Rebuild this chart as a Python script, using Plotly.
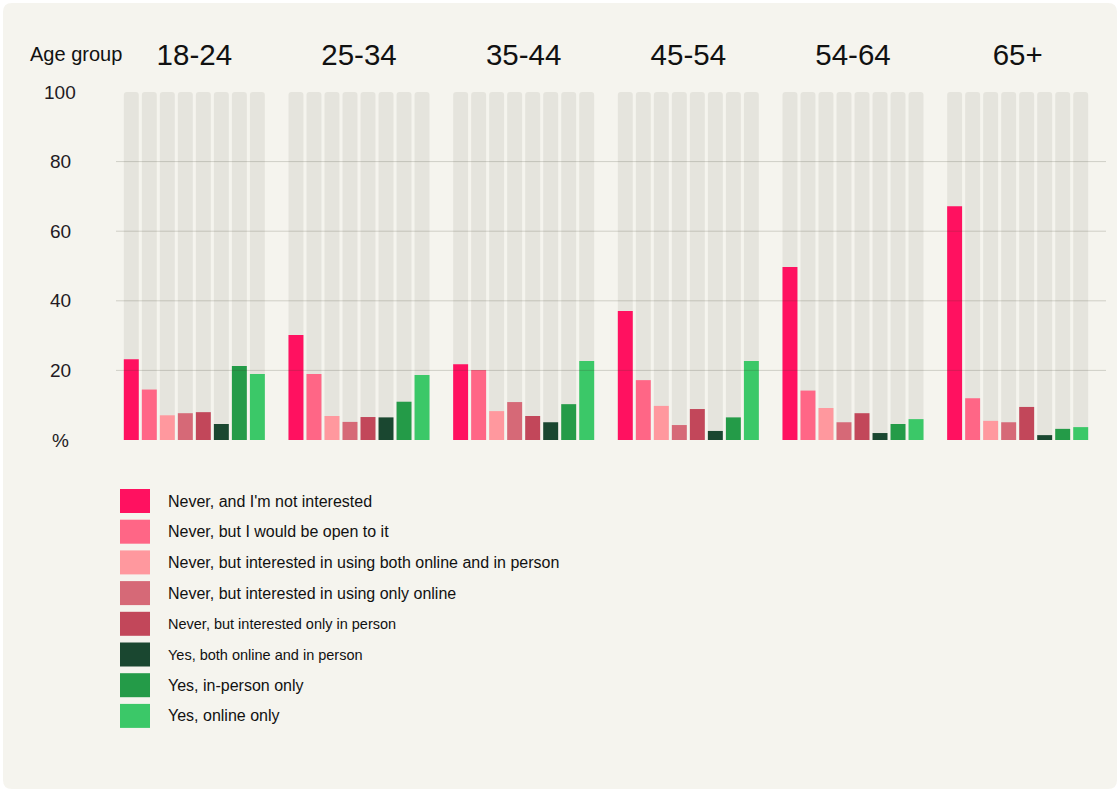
import plotly.graph_objects as go

age_groups = ["18-24", "25-34", "35-44", "45-54", "54-64", "65+"]

answers = [
    "Never, and I'm not interested",
    "Never, but I would be open to it",
    "Never, but interested in using both online and in person",
    "Never, but interested in using only online",
    "Never, but interested only in person",
    "Yes, both online and in person",
    "Yes, in-person only",
    "Yes, online only",
]

# share of respondents (%) per answer, one value per age group
never_not_interested = [23.2, 30.2, 21.8, 37.1, 49.7, 67.2]
never_open = [14.5, 19.0, 20.1, 17.2, 14.2, 12.0]
never_both = [7.1, 6.9, 8.3, 9.8, 9.2, 5.5]
never_online = [7.7, 5.2, 10.9, 4.3, 5.1, 5.1]
never_in_person = [8.0, 6.6, 6.9, 8.9, 7.7, 9.5]
yes_both = [4.6, 6.5, 5.1, 2.6, 2.0, 1.4]
yes_in_person = [21.3, 11.0, 10.3, 6.5, 4.6, 3.2]
yes_online = [19.0, 18.7, 22.7, 22.7, 6.0, 3.7]

series = [never_not_interested, never_open, never_both, never_online,
          never_in_person, yes_both, yes_in_person, yes_online]

full_scale = [100] * len(age_groups)

tick_values = [0, 20, 40, 60, 80, 100]
tick_text = ["%", "20", "40", "60", "80", "100"]
grid_values = [20, 40, 60, 80]

colors = ["#ff1160", "#ff6686", "#ff989e", "#d66977", "#c2475a",
          "#1a4730", "#249b48", "#3bc868"]
legend_sizes = [16, 16, 16, 16, 14.5, 14.5, 16, 16]

card = "#f5f4ee"
track = "#e5e4dd"
ink = "#231a23"

# page geometry (pixels) so annotations/shapes can be placed in paper units
W, H = 1120, 800
L, R, T, B = 112, 20, 92, 360
pw, ph = W - L - R, H - T - B


def px(x):
    return (x - L) / pw


def py(y):
    return (T + ph - y) / ph


def rounded_rect(x0, y0, x1, y1, r):
    return (f"M {px(x0 + r)},{py(y0)} L {px(x1 - r)},{py(y0)} "
            f"Q {px(x1)},{py(y0)} {px(x1)},{py(y0 + r)} "
            f"L {px(x1)},{py(y1 - r)} Q {px(x1)},{py(y1)} {px(x1 - r)},{py(y1)} "
            f"L {px(x0 + r)},{py(y1)} Q {px(x0)},{py(y1)} {px(x0)},{py(y1 - r)} "
            f"L {px(x0)},{py(y0 + r)} Q {px(x0)},{py(y0)} {px(x0 + r)},{py(y0)} Z")


fig = go.Figure()

# grey tracks behind each bar
for i in range(len(answers)):
    fig.add_trace(go.Bar(x=age_groups, y=full_scale, offsetgroup=str(i),
                         marker=dict(color=track, line=dict(width=0)),
                         hoverinfo="skip", showlegend=False))

for i, (name, vals) in enumerate(zip(answers, series)):
    fig.add_trace(go.Bar(x=age_groups, y=vals, name=name, offsetgroup=str(i),
                         marker=dict(color=colors[i], line=dict(width=0)),
                         showlegend=False))

shapes = [dict(type="path", xref="paper", yref="paper", layer="below",
               path=rounded_rect(3, 3, 1117, 789, 9),
               fillcolor=card, line=dict(width=0))]

for g in grid_values:
    shapes.append(dict(type="line", xref="paper", yref="y", layer="above",
                       x0=px(116), x1=px(1106), y0=g, y1=g,
                       line=dict(color="rgba(60,60,40,0.2)", width=1)))

annotations = [dict(text="Age group", xref="paper", yref="paper",
                    x=px(28), y=py(54), xanchor="left", yanchor="middle",
                    showarrow=False, font=dict(size=20, color="#111"))]

for v, t in zip(tick_values, tick_text):
    annotations.append(dict(text=t, xref="paper", yref="y", x=px(60), y=v,
                            xanchor="center", yanchor="middle", showarrow=False,
                            font=dict(size=19, color=ink)))

# custom legend with large swatches
for i, name in enumerate(answers):
    yc = 501 + i * 30.7
    shapes.append(dict(type="rect", xref="paper", yref="paper",
                       x0=px(120), x1=px(150), y0=py(yc - 12), y1=py(yc + 12),
                       fillcolor=colors[i], line=dict(width=0), layer="above"))
    annotations.append(dict(text=name, xref="paper", yref="paper",
                            x=px(166), y=py(yc), xanchor="left", yanchor="middle",
                            showarrow=False,
                            font=dict(size=legend_sizes[i], color="#111")))

fig.update_layout(
    width=W, height=H,
    margin=dict(l=L, r=R, t=T, b=B),
    paper_bgcolor="white",
    plot_bgcolor="rgba(0,0,0,0)",
    font=dict(family="Liberation Sans, Arial, sans-serif", color=ink),
    barmode="group",
    bargap=0.125,
    bargroupgap=0.17,
    barcornerradius=3,
    shapes=shapes,
    annotations=annotations,
    xaxis=dict(side="top", type="category", showgrid=False, showline=False,
               zeroline=False, ticks="", ticklabelstandoff=20,
               tickfont=dict(size=29.5, color="#111"), fixedrange=True),
    yaxis=dict(range=[0, 100], showgrid=False, zeroline=False, showline=False,
               showticklabels=False, fixedrange=True),
)

fig.write_html("out.html", config={"displayModeBar": False},
               post_script="document.body.style.margin = '0';")
